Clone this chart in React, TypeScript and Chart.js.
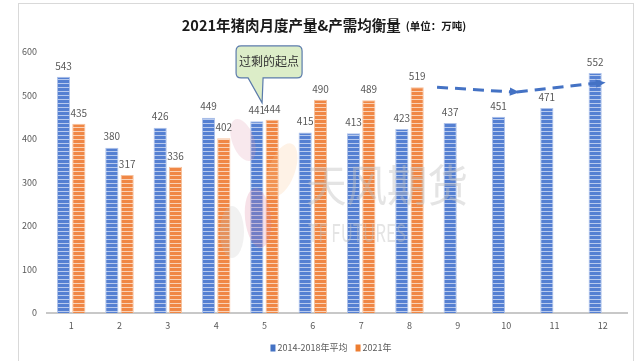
import React, { useEffect, useRef } from "react";
import { Chart, registerables } from "chart.js";
Chart.register(...registerables);

const months = ["1", "2", "3", "4", "5", "6", "7", "8", "9", "10", "11", "12"];
const avg20142018 = [543, 380, 426, 449, 441, 415, 413, 423, 437, 451, 471, 552];
const year2021: (number | null)[] = [435, 317, 336, 402, 444, 490, 489, 519, null, null, null, null];
const seriesNames = ["2014-2018年平均", "2021年"];
const yMin = 0;
const yMax = 600;
const yStep = 100;
const titleMain = "2021年猪肉月度产量&产需均衡量";
const titleUnit = "(单位：万吨)";
const calloutText = "过剩的起点";
// callout pointer tip in data coordinates (category index, value)
const calloutTip = { x: 3.95, y: 483 };
// dashed trend arrow in data coordinates
const trendPoints = [
  { x: 7.57, y: 519 },
  { x: 9.22, y: 508 },
  { x: 11.0, y: 529 },
];
const watermarkMain = "天风期货";
const watermarkSub = "TF FUTURES";

const NUM_FONT = '"Liberation Sans Narrow", "Noto Sans CJK SC", sans-serif';
const CJK_FONT = '"Noto Sans CJK SC", sans-serif';

function stripePattern(base: string, light: string): CanvasPattern | string {
  const c = document.createElement("canvas");
  c.width = 4;
  c.height = 4;
  const g = c.getContext("2d");
  if (!g) return base;
  g.fillStyle = base;
  g.fillRect(0, 0, 4, 4);
  g.fillStyle = light;
  g.fillRect(0, 3, 4, 1);
  const p = g.createPattern(c, "repeat");
  return p || base;
}

function arrowHead(ctx: CanvasRenderingContext2D, x1: number, y1: number, x2: number, y2: number, size: number) {
  const a = Math.atan2(y2 - y1, x2 - x1);
  ctx.beginPath();
  ctx.moveTo(x2 + Math.cos(a) * size * 0.4, y2 + Math.sin(a) * size * 0.4);
  ctx.lineTo(x2 - Math.cos(a) * size + Math.sin(a) * size * 0.6, y2 - Math.sin(a) * size - Math.cos(a) * size * 0.6);
  ctx.lineTo(x2 - Math.cos(a) * size - Math.sin(a) * size * 0.6, y2 - Math.sin(a) * size + Math.cos(a) * size * 0.6);
  ctx.closePath();
  ctx.fill();
}

function fitText(ctx: CanvasRenderingContext2D, text: string, x: number, y: number, w: number) {
  const m = ctx.measureText(text).width || 1;
  ctx.save();
  ctx.translate(x, y);
  ctx.scale(w / m, 1);
  ctx.fillText(text, 0, 0);
  ctx.restore();
}

const decorPlugin = {
  id: "decor",
  beforeDraw(chart: any) {
    const ctx = chart.ctx as CanvasRenderingContext2D;
    ctx.save();
    ctx.fillStyle = "#ffffff";
    ctx.fillRect(0, 0, chart.width, chart.height);
    ctx.strokeStyle = "#d9d9d9";
    ctx.lineWidth = 1;
    ctx.strokeRect(18.5, 3.5, 615, 400);
    ctx.restore();
  },
  afterDatasetsDraw(chart: any) {
    const ctx = chart.ctx as CanvasRenderingContext2D;
    const xs = chart.scales.x;
    const ys = chart.scales.y;
    ctx.save();

    // faint watermark logo over the bars
    const blob = (cx: number, cy: number, rx: number, ry: number, rot: number, col: string) => {
      ctx.fillStyle = col;
      ctx.beginPath();
      ctx.ellipse(cx, cy, rx, ry, rot, 0, Math.PI * 2);
      ctx.fill();
    };
    blob(243, 140, 11, 22, -0.35, "rgba(225,150,175,0.22)");
    blob(282, 170, 13, 28, 0.35, "rgba(250,195,140,0.22)");
    blob(258, 218, 13, 30, -0.1, "rgba(220,120,150,0.22)");
    blob(232, 232, 12, 26, 0, "rgba(190,190,190,0.22)");
    ctx.fillStyle = "rgba(190,190,190,0.42)";
    ctx.textAlign = "left";
    ctx.textBaseline = "middle";
    ctx.font = "44px " + CJK_FONT;
    fitText(ctx, watermarkMain, 306, 185, 162);
    ctx.font = "24px " + CJK_FONT;
    fitText(ctx, watermarkSub, 308, 233, 98);

    // data labels
    ctx.font = "10px " + NUM_FONT;
    ctx.fillStyle = "#595959";
    ctx.textAlign = "center";
    ctx.textBaseline = "middle";
    chart.data.datasets.forEach((ds: any, di: number) => {
      const meta = chart.getDatasetMeta(di);
      meta.data.forEach((el: any, i: number) => {
        const v = ds.data[i];
        if (v === null || v === undefined) return;
        ctx.fillText(String(v), el.x, el.y - 11);
      });
    });

    // title
    ctx.textBaseline = "middle";
    ctx.textAlign = "left";
    ctx.font = "bold 14.5px " + CJK_FONT;
    const w1 = ctx.measureText(titleMain).width;
    ctx.font = "bold 10.5px " + CJK_FONT;
    const w2 = ctx.measureText(titleUnit).width;
    const gap = 5;
    const tx = 324 - (w1 + gap + w2) / 2;
    ctx.fillStyle = "#1a1a1a";
    ctx.font = "bold 14.5px " + CJK_FONT;
    ctx.fillText(titleMain, tx, 25);
    ctx.font = "bold 10.5px " + CJK_FONT;
    ctx.fillText(titleUnit, tx + w1 + gap, 26);

    // legend
    ctx.font = "9px " + CJK_FONT;
    const items = chart.data.datasets.map((ds: any) => ({ label: ds.label, color: ds.legendColor }));
    const sq = 5;
    const itemGap = 8;
    let total = 0;
    items.forEach((it: any, i: number) => {
      total += sq + 2 + ctx.measureText(it.label).width + (i < items.length - 1 ? itemGap : 0);
    });
    let lx = 331 - total / 2;
    const ly = 348;
    items.forEach((it: any) => {
      ctx.fillStyle = it.color;
      ctx.fillRect(lx, ly - 3.5, sq, 7);
      lx += sq + 2;
      ctx.fillStyle = "#595959";
      ctx.fillText(it.label, lx, ly);
      lx += ctx.measureText(it.label).width + itemGap;
    });

    // callout
    const tipX = xs.getPixelForValue(calloutTip.x);
    const tipY = ys.getPixelForValue(calloutTip.y);
    const bl = tipX - 26;
    const br = tipX + 40;
    const bt = tipY - 57;
    const bb = tipY - 25;
    const r = 5;
    ctx.beginPath();
    ctx.moveTo(bl + r, bt);
    ctx.lineTo(br - r, bt);
    ctx.quadraticCurveTo(br, bt, br, bt + r);
    ctx.lineTo(br, bb - r);
    ctx.quadraticCurveTo(br, bb, br - r, bb);
    ctx.lineTo(tipX + 1, bb);
    ctx.lineTo(tipX, tipY);
    ctx.lineTo(tipX - 14, bb);
    ctx.lineTo(bl + r, bb);
    ctx.quadraticCurveTo(bl, bb, bl, bb - r);
    ctx.lineTo(bl, bt + r);
    ctx.quadraticCurveTo(bl, bt, bl + r, bt);
    ctx.closePath();
    ctx.fillStyle = "#dcedc8";
    ctx.fill();
    ctx.strokeStyle = "#5b7bab";
    ctx.lineWidth = 1.2;
    ctx.stroke();
    ctx.fillStyle = "#333333";
    ctx.font = "12px " + CJK_FONT;
    ctx.textAlign = "center";
    ctx.textBaseline = "middle";
    ctx.fillText(calloutText, (bl + br) / 2, (bt + bb) / 2);

    // dashed trend arrow
    const pts = trendPoints.map((p) => ({ x: xs.getPixelForValue(p.x), y: ys.getPixelForValue(p.y) }));
    ctx.strokeStyle = "#4472c4";
    ctx.fillStyle = "#4472c4";
    ctx.lineWidth = 3;
    ctx.setLineDash([11, 7]);
    for (let i = 0; i < pts.length - 1; i++) {
      ctx.beginPath();
      ctx.moveTo(pts[i].x, pts[i].y);
      ctx.lineTo(pts[i + 1].x - 4, pts[i + 1].y);
      ctx.stroke();
    }
    ctx.setLineDash([]);
    for (let i = 0; i < pts.length - 1; i++) {
      arrowHead(ctx, pts[i].x, pts[i].y, pts[i + 1].x, pts[i + 1].y, 7);
    }
    ctx.restore();
  },
};

export default function App() {
  const ref = useRef<HTMLCanvasElement | null>(null);
  useEffect(() => {
    if (!ref.current) return;
    const bluePat = stripePattern("#5580d2", "#b8caee");
    const orangePat = stripePattern("#f08745", "#fad2b6");
    const chart = new Chart(ref.current, {
      type: "bar",
      data: {
        labels: months,
        datasets: [
          {
            label: seriesNames[0],
            data: avg20142018,
            backgroundColor: bluePat as any,
            borderColor: "#aec2ea",
            borderWidth: 1,
            categoryPercentage: 0.634,
            barPercentage: 0.86,
            legendColor: "#4472c4",
          } as any,
          {
            label: seriesNames[1],
            data: year2021,
            backgroundColor: orangePat as any,
            borderColor: "#f6c19c",
            borderWidth: 1,
            categoryPercentage: 0.634,
            barPercentage: 0.86,
            legendColor: "#ed7d31",
          } as any,
        ],
      },
      options: {
        animation: false,
        responsive: false,
        maintainAspectRatio: false,
        layout: { padding: { top: 52, left: 0, right: 14, bottom: 0 } },
        plugins: {
          legend: { display: false },
          title: { display: false },
          tooltip: { enabled: false },
        },
        scales: {
          x: {
            grid: { display: false, drawTicks: false },
            border: { display: true, color: "#c8c8c8", width: 2 },
            ticks: { color: "#595959", font: { size: 9, family: NUM_FONT }, padding: 7 },
            afterFit: (s: any) => {
              s.height = 48;
            },
          },
          y: {
            min: yMin,
            max: yMax,
            grid: { display: false, drawTicks: false },
            border: { display: false },
            ticks: { stepSize: yStep, color: "#595959", font: { size: 9, family: NUM_FONT }, padding: 10 },
            afterFit: (s: any) => {
              s.width = 47;
            },
          },
        },
      },
      plugins: [decorPlugin],
    });
    return () => chart.destroy();
  }, []);
  return (
    <div style={{ position: "fixed", left: 0, top: 0, width: 641, height: 361, background: "#fff" }}>
      <canvas ref={ref} width={641} height={361} style={{ width: 641, height: 361, display: "block" }} />
    </div>
  );
}
